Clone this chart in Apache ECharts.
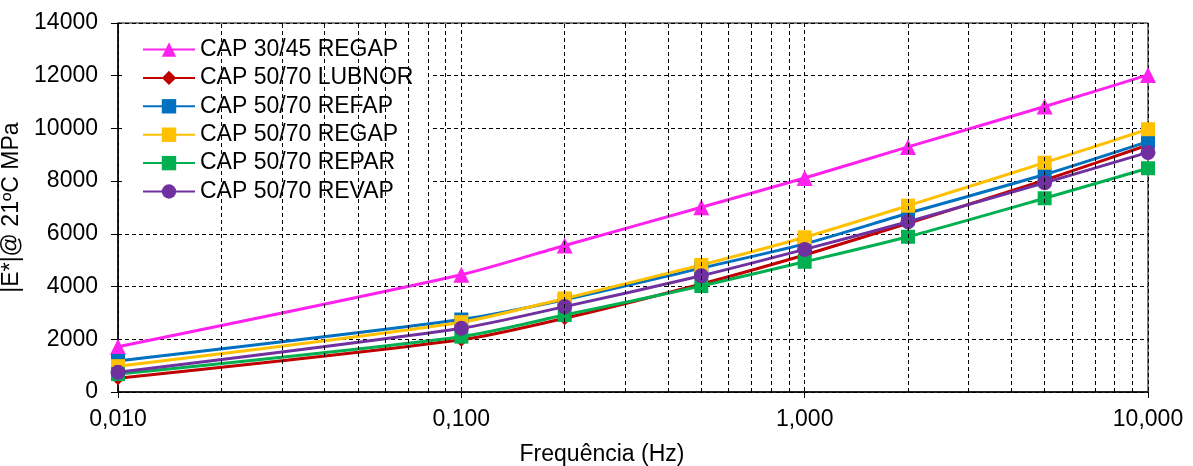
<!DOCTYPE html>
<html>
<head>
<meta charset="utf-8">
<script src="https://cdn.jsdelivr.net/npm/echarts@6/dist/echarts.min.js"></script>
<style>
    html, body {margin: 0; padding: 0; background: #fff;}
    #chart {width: 1193px; height: 466px;}
</style>
</head>
<body>
<div id="chart"></div>
<script>
// frequencias (Hz) dos ensaios
const freqs = [0.01, 0.1, 0.2, 0.5, 1, 2, 5, 10];

// |E*| em MPa por ligante
const cap3045Regap = [1720, 4450, 5560, 7010, 8120, 9300, 10830, 12030];
const cap5070Lubnor = [520, 1980, 2800, 4100, 5200, 6400, 8040, 9370];
const cap5070Refap = [1180, 2750, 3500, 4700, 5620, 6780, 8250, 9500];
const cap5070Regap = [980, 2650, 3550, 4820, 5870, 7070, 8700, 9970];
const cap5070Repar = [680, 2100, 2920, 4020, 4940, 5890, 7350, 8490];
const cap5070Revap = [750, 2420, 3240, 4410, 5410, 6460, 7940, 9090];

// linhas secundarias do eixo log
const minorTicks = [0.02, 0.03, 0.04, 0.05, 0.06, 0.07, 0.08, 0.09,
    0.2, 0.3, 0.4, 0.5, 0.6, 0.7, 0.8, 0.9,
    2, 3, 4, 5, 6, 7, 8, 9];

const font = 'Liberation Sans, Arial, sans-serif';
const fontSize = 23;
const dash = [4, 3];

function makeSeries(name, values, color, symbol, size) {
    return {
        name: name,
        type: 'line',
        smooth: 0.25,
        data: freqs.map((f, i) => [f, values[i]]),
        symbol: symbol,
        symbolSize: size,
        itemStyle: {color: color},
        lineStyle: {color: color, width: 3},
        animation: false,
    };
}

const series = [
    {
        name: 'minor',
        type: 'line',
        data: [],
        silent: true,
        markLine: {
            silent: true,
            symbol: 'none',
            animation: false,
            label: {show: false},
            lineStyle: {color: '#000', width: 1, type: dash},
            data: minorTicks.map(v => ({xAxis: v})),
        },
    },
    makeSeries('CAP 30/45 REGAP', cap3045Regap, '#FF22EE', 'triangle', 16),
    makeSeries('CAP 50/70 LUBNOR', cap5070Lubnor, '#C00000', 'diamond', 14),
    makeSeries('CAP 50/70 REFAP', cap5070Refap, '#0070C0', 'rect', 14),
    makeSeries('CAP 50/70 REGAP', cap5070Regap, '#FFC000', 'rect', 14),
    makeSeries('CAP 50/70 REPAR', cap5070Repar, '#00B050', 'rect', 14),
    makeSeries('CAP 50/70 REVAP', cap5070Revap, '#7030A0', 'circle', 15),
];

const chart = echarts.init(document.getElementById('chart'));
chart.setOption({
    animation: false,
    backgroundColor: '#fff',
    textStyle: {fontFamily: font},
    grid: {
        left: 118, right: 45, top: 23, bottom: 74,
        containLabel: false,
        outerBoundsMode: 'none',
        show: true, borderColor: '#000', borderWidth: 1,
    },
    legend: {
        data: series.slice(1).map(s => s.name),
        orient: 'vertical',
        left: 122,
        top: 34,
        backgroundColor: '#fff',
        padding: [4, 18, 6, 20],
        itemWidth: 52,
        itemHeight: 18,
        itemGap: 5.4,
        textStyle: {fontFamily: font, fontSize: fontSize, lineHeight: 23, color: '#000'},
    },
    xAxis: {
        type: 'log',
        logBase: 10,
        min: 0.01,
        max: 10,
        name: 'Frequência (Hz)',
        nameLocation: 'middle',
        nameGap: 51,
        nameTextStyle: {fontFamily: font, fontSize: fontSize, color: '#000', padding: [0, 62, 0, 0]},
        axisLine: {lineStyle: {color: '#000', width: 1.5}},
        axisTick: {show: true, length: 6, lineStyle: {color: '#000'}},
        axisLabel: {
            fontFamily: font, fontSize: fontSize, color: '#000', margin: 16,
            formatter: v => v.toFixed(3).replace('.', ','),
        },
        splitLine: {show: true, lineStyle: {color: '#000', width: 1, type: dash}},
    },
    yAxis: {
        type: 'value',
        min: 0,
        max: 14000,
        interval: 2000,
        name: '|E*|@ 21ºC MPa',
        nameLocation: 'middle',
        nameGap: 86,
        nameTextStyle: {fontFamily: font, fontSize: fontSize, color: '#000'},
        axisLine: {show: true, lineStyle: {color: '#000', width: 1.5}},
        axisTick: {show: true, length: 7, lineStyle: {color: '#000'}},
        axisLabel: {
            fontFamily: font, fontSize: fontSize, color: '#000', margin: 20,
            formatter: v => String(v),
        },
        splitLine: {show: true, lineStyle: {color: '#000', width: 1, type: dash}},
    },
    series: series,
});
</script>
</body>
</html>
